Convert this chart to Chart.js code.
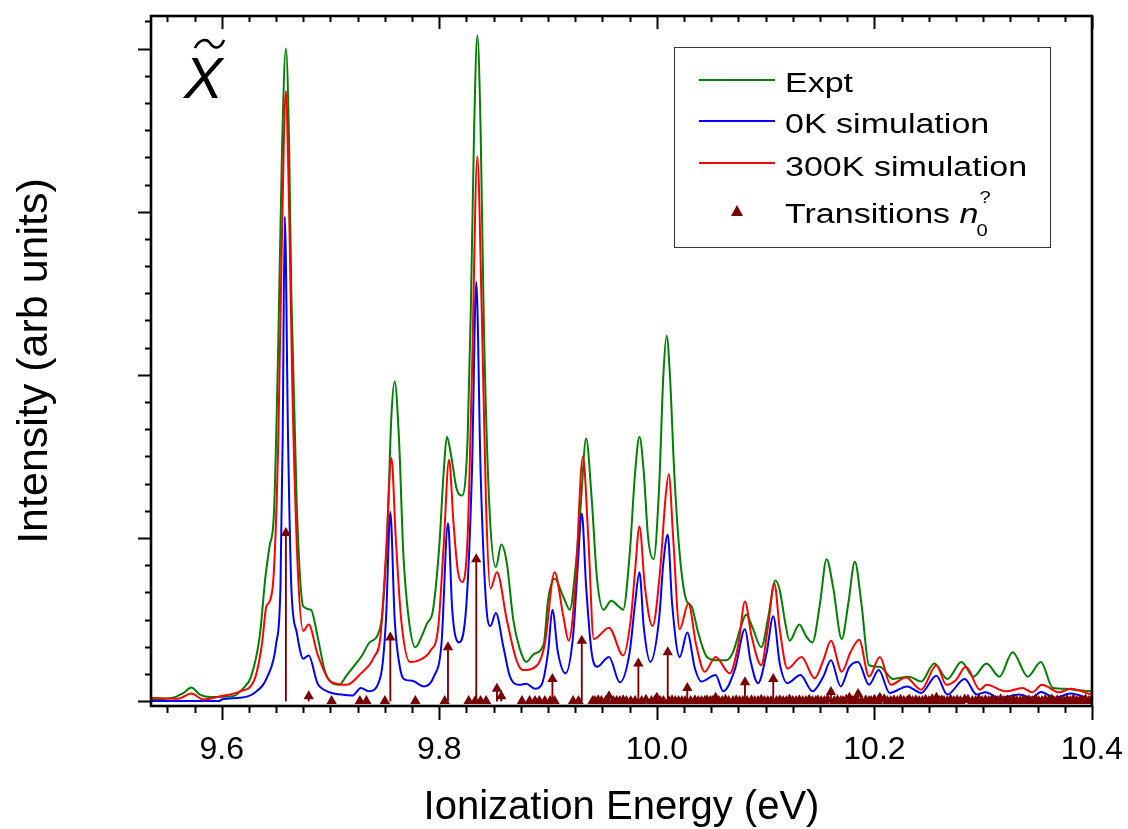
<!DOCTYPE html>
<html>
<head>
<meta charset="utf-8">
<script src="https://cdn.jsdelivr.net/npm/chart.js@4.4.1/dist/chart.umd.min.js"></script>
<style>
  html, body { margin: 0; padding: 0; background: #fff; }
  canvas { display: block; }
</style>
</head>
<body>
<canvas id="spectrum" width="1128" height="829"></canvas>
<script>
// ---- data ----
const exptE = [9.535, 9.555, 9.565, 9.572, 9.580, 9.590, 9.610, 9.620, 9.627, 9.635, 9.640, 9.644, 9.648, 9.652, 9.6555, 9.659, 9.662, 9.664, 9.669, 9.675, 9.682, 9.688, 9.695, 9.700, 9.708, 9.715, 9.721, 9.729, 9.736, 9.746, 9.752, 9.756, 9.759, 9.763, 9.767, 9.772, 9.778, 9.784, 9.789, 9.794, 9.800, 9.804, 9.807, 9.811, 9.816, 9.821, 9.826, 9.829, 9.832, 9.835, 9.838, 9.841, 9.846, 9.852, 9.857, 9.862, 9.868, 9.874, 9.880, 9.887, 9.896, 9.900, 9.906, 9.914, 9.920, 9.925, 9.930, 9.935, 9.940, 9.945, 9.951, 9.958, 9.965, 9.969, 9.975, 9.980, 9.984, 9.988, 9.992, 9.997, 10.002, 10.006, 10.009, 10.012, 10.016, 10.021, 10.027, 10.032, 10.038, 10.046, 10.055, 10.064, 10.070, 10.077, 10.082, 10.088, 10.096, 10.102, 10.109, 10.113, 10.118, 10.122, 10.131, 10.137, 10.143, 10.150, 10.156, 10.162, 10.170, 10.176, 10.182, 10.188, 10.195, 10.205, 10.217, 10.232, 10.243, 10.255, 10.267, 10.280, 10.291, 10.303, 10.315, 10.327, 10.341, 10.353, 10.364, 10.376, 10.388, 10.400];
const exptI = [0.01, 0.02, 0.05, 0.083, 0.04, 0.025, 0.03, 0.08, 0.15, 0.40, 0.75, 0.95, 1.15, 2.2, 3.4, 4.0, 3.4, 2.5, 1.2, 0.58, 0.56, 0.40, 0.18, 0.12, 0.10, 0.16, 0.21, 0.28, 0.36, 0.46, 1.0, 1.75, 1.96, 1.6, 0.9, 0.5, 0.33, 0.40, 0.48, 0.55, 0.95, 1.40, 1.62, 1.50, 1.30, 1.26, 1.6, 2.4, 3.5, 4.08, 3.5, 2.3, 1.2, 0.82, 0.96, 0.85, 0.50, 0.32, 0.24, 0.29, 0.35, 0.62, 0.75, 0.64, 0.56, 0.80, 1.2, 1.61, 1.25, 0.75, 0.56, 0.615, 0.58, 0.56, 0.9, 1.4, 1.62, 1.4, 1.0, 0.87, 1.3, 2.0, 2.24, 2.0, 1.4, 0.9, 0.62, 0.58, 0.42, 0.27, 0.25, 0.25, 0.30, 0.45, 0.53, 0.45, 0.33, 0.50, 0.74, 0.68, 0.48, 0.37, 0.47, 0.40, 0.36, 0.60, 0.87, 0.70, 0.38, 0.60, 0.855, 0.60, 0.22, 0.21, 0.136, 0.15, 0.12, 0.23, 0.136, 0.24, 0.15, 0.23, 0.15, 0.30, 0.15, 0.24, 0.08, 0.075, 0.066, 0.06];

const sim0E = [9.535, 9.598, 9.600, 9.617, 9.630, 9.642, 9.650, 9.654, 9.656, 9.658, 9.661, 9.664, 9.669, 9.675, 9.680, 9.688, 9.697, 9.710, 9.720, 9.728, 9.735, 9.746, 9.751, 9.755, 9.759, 9.764, 9.769, 9.775, 9.786, 9.795, 9.802, 9.808, 9.812, 9.818, 9.825, 9.830, 9.834, 9.838, 9.843, 9.847, 9.852, 9.859, 9.865, 9.874, 9.880, 9.888, 9.894, 9.900, 9.904, 9.909, 9.916, 9.923, 9.927, 9.931, 9.935, 9.940, 9.945, 9.956, 9.966, 9.975, 9.980, 9.984, 9.988, 9.994, 10.002, 10.006, 10.010, 10.014, 10.021, 10.028, 10.035, 10.041, 10.054, 10.061, 10.072, 10.081, 10.086, 10.093, 10.101, 10.107, 10.113, 10.120, 10.132, 10.143, 10.153, 10.160, 10.169, 10.177, 10.185, 10.195, 10.204, 10.214, 10.230, 10.243, 10.257, 10.267, 10.283, 10.294, 10.302, 10.315, 10.333, 10.345, 10.353, 10.366, 10.380, 10.400];
const sim0I = [0.0, 0.0, 0.01, 0.02, 0.05, 0.15, 0.35, 0.7, 1.6, 2.97, 1.6, 0.7, 0.42, 0.26, 0.28, 0.11, 0.06, 0.04, 0.034, 0.08, 0.06, 0.15, 0.5, 1.16, 0.5, 0.2, 0.13, 0.125, 0.09, 0.15, 0.35, 1.09, 0.55, 0.36, 0.6, 1.4, 2.57, 1.4, 0.6, 0.46, 0.54, 0.33, 0.15, 0.10, 0.107, 0.075, 0.10, 0.3, 0.56, 0.3, 0.17, 0.4, 0.8, 1.15, 0.7, 0.3, 0.21, 0.27, 0.115, 0.3, 0.6, 0.79, 0.45, 0.24, 0.5, 0.85, 1.02, 0.6, 0.27, 0.42, 0.2, 0.12, 0.16, 0.06, 0.2, 0.44, 0.25, 0.11, 0.3, 0.52, 0.23, 0.11, 0.16, 0.06, 0.15, 0.25, 0.09, 0.21, 0.24, 0.10, 0.19, 0.05, 0.09, 0.05, 0.156, 0.04, 0.136, 0.04, 0.054, 0.02, 0.04, 0.02, 0.056, 0.02, 0.046, 0.01];

const sim300E = [9.535, 9.560, 9.572, 9.583, 9.599, 9.617, 9.630, 9.637, 9.641, 9.644, 9.648, 9.652, 9.6555, 9.659, 9.662, 9.665, 9.670, 9.675, 9.680, 9.688, 9.700, 9.715, 9.728, 9.740, 9.746, 9.751, 9.756, 9.760, 9.765, 9.773, 9.781, 9.792, 9.799, 9.804, 9.809, 9.813, 9.817, 9.821, 9.826, 9.830, 9.835, 9.839, 9.843, 9.847, 9.853, 9.862, 9.871, 9.877, 9.890, 9.897, 9.906, 9.914, 9.919, 9.925, 9.932, 9.937, 9.942, 9.956, 9.969, 9.976, 9.980, 9.984, 9.989, 9.996, 10.003, 10.008, 10.011, 10.015, 10.021, 10.029, 10.036, 10.044, 10.054, 10.067, 10.075, 10.081, 10.087, 10.096, 10.102, 10.108, 10.113, 10.120, 10.133, 10.145, 10.153, 10.160, 10.170, 10.178, 10.186, 10.195, 10.205, 10.215, 10.229, 10.243, 10.257, 10.266, 10.275, 10.284, 10.297, 10.303, 10.321, 10.336, 10.345, 10.354, 10.370, 10.380, 10.400];
const sim300I = [0.02, 0.015, 0.046, 0.01, 0.03, 0.06, 0.13, 0.35, 0.58, 0.61, 0.80, 1.6, 2.9, 3.74, 3.0, 1.9, 0.8, 0.43, 0.47, 0.29, 0.12, 0.10, 0.17, 0.27, 0.40, 0.9, 1.49, 1.0, 0.5, 0.24, 0.25, 0.31, 0.45, 0.95, 1.48, 1.1, 0.8, 0.73, 1.0, 2.0, 3.34, 2.4, 1.2, 0.69, 0.79, 0.50, 0.25, 0.19, 0.22, 0.35, 0.79, 0.52, 0.37, 0.7, 1.50, 1.0, 0.38, 0.45, 0.28, 0.5, 0.8, 1.07, 0.7, 0.46, 0.8, 1.25, 1.39, 1.0, 0.44, 0.60, 0.35, 0.18, 0.27, 0.17, 0.35, 0.61, 0.40, 0.22, 0.45, 0.72, 0.44, 0.20, 0.27, 0.14, 0.25, 0.37, 0.18, 0.30, 0.376, 0.15, 0.27, 0.10, 0.145, 0.07, 0.22, 0.10, 0.13, 0.21, 0.07, 0.10, 0.06, 0.08, 0.054, 0.10, 0.054, 0.076, 0.04];

// transitions with a visible stick
const transE = [9.659, 9.680, 9.755, 9.808, 9.834, 9.853, 9.857, 9.904, 9.931, 9.956, 9.983, 10.000, 10.010, 10.028, 10.054, 10.081, 10.107, 10.160, 10.177, 10.185, 10.205, 10.257, 10.283];
const transI = [1.03, 0.03, 0.39, 0.33, 0.87, 0.075, 0.03, 0.136, 0.37, 0.03, 0.23, 0.02, 0.30, 0.08, 0.02, 0.115, 0.136, 0.056, 0.02, 0.044, 0.02, 0.02, 0.01];
// weak transitions sitting on the baseline
const weakE = [9.701, 9.727, 9.733, 9.750, 9.778, 9.805, 9.827, 9.833, 9.838, 9.843, 9.876, 9.883, 9.888, 9.892, 9.897, 9.902, 9.906, 9.923, 9.928, 9.941, 9.943, 9.946, 9.949, 9.953, 9.960, 9.963, 9.966, 9.969, 9.972, 9.976, 9.980, 9.986, 9.990, 9.995, 9.998, 10.003, 10.006, 10.011, 10.014, 10.017, 10.020, 10.023, 10.026, 10.031, 10.035, 10.038, 10.041, 10.044, 10.046, 10.049, 10.051, 10.057, 10.060, 10.063, 10.066, 10.070, 10.073, 10.076, 10.079, 10.083, 10.087, 10.090, 10.093, 10.096, 10.099, 10.102, 10.105, 10.110, 10.113, 10.116, 10.119, 10.122, 10.125, 10.128, 10.131, 10.134, 10.137, 10.140, 10.143, 10.146, 10.148, 10.151, 10.154, 10.157, 10.163, 10.166, 10.169, 10.171, 10.174, 10.180, 10.183, 10.188, 10.192, 10.195, 10.197, 10.200, 10.203, 10.209, 10.212, 10.215, 10.218, 10.221, 10.224, 10.227, 10.230, 10.232, 10.235, 10.238, 10.241, 10.244, 10.247, 10.250, 10.253, 10.255, 10.260, 10.262, 10.264, 10.267, 10.270, 10.273, 10.276, 10.279, 10.286, 10.290, 10.293, 10.296, 10.299, 10.302, 10.305, 10.308, 10.311, 10.313, 10.316, 10.319, 10.322, 10.325, 10.328, 10.331, 10.334, 10.337, 10.339, 10.342, 10.345, 10.348, 10.351, 10.354, 10.357, 10.360, 10.363, 10.365, 10.368, 10.371, 10.374, 10.377, 10.380, 10.383, 10.386, 10.389, 10.391, 10.394, 10.397, 10.399];
const weakI = [0, 0, 0, 0, 0, 0, 0, 0, 0, 0, 0, 0, 0, 0, 0, 0, 0, 0, 0, 0, 0, 0.005, 0, 0, 0, 0, 0, 0.005, 0, 0, 0, 0, 0.008, 0, 0, 0, 0, 0, 0.006, 0, 0, 0, 0, 0, 0.005, 0, 0, 0, 0.006, 0, 0, 0, 0, 0.008, 0, 0, 0.006, 0, 0, 0, 0.005, 0, 0, 0.008, 0, 0, 0, 0, 0.006, 0, 0, 0.01, 0, 0, 0.006, 0, 0, 0.008, 0, 0, 0.005, 0, 0, 0.01, 0, 0.006, 0, 0, 0.008, 0, 0.01, 0, 0.006, 0, 0, 0.008, 0, 0.012, 0, 0, 0.006, 0, 0.008, 0, 0, 0.01, 0, 0.006, 0, 0, 0.008, 0, 0.012, 0, 0, 0.006, 0, 0, 0.01, 0, 0.006, 0, 0.008, 0, 0, 0.01, 0, 0.006, 0, 0.008, 0, 0, 0.012, 0, 0.006, 0, 0.01, 0, 0, 0.008, 0, 0.006, 0, 0.012, 0, 0, 0.008, 0, 0.01, 0, 0.006, 0, 0, 0.008, 0, 0.012, 0, 0.006, 0, 0.01, 0, 0];

const xTickValues = [9.6, 9.8, 10.0, 10.2, 10.4];
const seriesLabels = ['Expt', '0K simulation', '300K simulation', 'Transitions'];

const FONT = "'Liberation Sans', Arial, sans-serif";
const GREEN = '#008000', BLUE = '#0000ff', RED = '#ff0000', MAROON = '#7a0000';
const LEGEND_STRETCH = 1.26;   // legend text in the figure is wider than normal

const toPoints = (xs, ys) => xs.map((x, i) => ({ x, y: ys[i] }));

const lineStyle = (color) => ({
    type: 'line',
    borderColor: color,
    backgroundColor: color,
    borderWidth: 2,
    pointRadius: 0,
    fill: false,
    cubicInterpolationMode: 'monotone'
});

// draw text with a horizontal stretch, anchored at (x, y); returns drawn width
function wideText(ctx, text, x, y, stretch) {
    ctx.save();
    ctx.translate(x, y);
    ctx.scale(stretch, 1);
    ctx.textAlign = 'left';
    ctx.fillText(text, 0, 0);
    const w = ctx.measureText(text).width * stretch;
    ctx.restore();
    return w;
}

// Minor/major tick marks, frame box, legend, titles and the X-tilde label
const decorations = {
    id: 'decorations',
    afterDraw(chart) {
        const { ctx, chartArea: a, scales: { x, y } } = chart;
        ctx.save();
        ctx.strokeStyle = '#000';
        ctx.lineCap = 'butt';

        // x ticks: bottom outward, top inward, every 0.025 eV
        ctx.lineWidth = 2;
        const k0 = Math.ceil(x.min / 0.025 - 1e-6), k1 = Math.floor(x.max / 0.025 + 1e-6);
        for (let k = k0; k <= k1; k++) {
            const px = Math.round(x.getPixelForValue(k * 0.025)) + 0.5;
            const major = k % 8 === 0;
            ctx.beginPath();
            ctx.moveTo(px, a.bottom);
            ctx.lineTo(px, a.bottom + (major ? 14 : 7));
            ctx.moveTo(px, a.top);
            ctx.lineTo(px, a.top + (major ? 13 : 6));
            ctx.stroke();
        }
        // y ticks: left outward, six minor steps per major
        for (let k = 0; k / 6 <= y.max; k++) {
            const py = Math.round(y.getPixelForValue(k / 6)) + 0.5;
            const major = k % 6 === 0;
            ctx.beginPath();
            ctx.moveTo(a.left, py);
            ctx.lineTo(a.left - (major ? 13 : 6), py);
            ctx.stroke();
        }

        // frame
        ctx.lineWidth = 2.6;
        ctx.strokeRect(a.left, a.top, a.right - a.left, a.bottom - a.top);

        ctx.fillStyle = '#000';
        ctx.textBaseline = 'alphabetic';

        // tick labels
        ctx.font = '32px ' + FONT;
        ctx.textAlign = 'center';
        xTickValues.forEach(v => ctx.fillText(v.toFixed(1), x.getPixelForValue(v), 759));

        // axis titles
        ctx.font = '40px ' + FONT;
        ctx.fillText('Ionization Energy (eV)', (a.left + a.right) / 2, 819);
        ctx.save();
        ctx.translate(47, 361);
        ctx.rotate(-Math.PI / 2);
        ctx.font = '43px ' + FONT;
        ctx.fillText('Intensity (arb units)', 0, 0);
        ctx.restore();

        // X tilde label
        ctx.font = 'italic 58px ' + FONT;
        ctx.textAlign = 'left';
        ctx.fillText('X', 184, 98);
        ctx.lineWidth = 2.6;
        ctx.beginPath();
        ctx.moveTo(195, 48);
        ctx.bezierCurveTo(200, 38, 207, 39, 210, 43);
        ctx.bezierCurveTo(214, 49, 220, 50, 224, 40);
        ctx.stroke();

        // legend box
        ctx.lineWidth = 1;
        ctx.strokeStyle = '#333';
        ctx.strokeRect(674.5, 47.5, 376, 200);
        const rows = [
            { color: GREEN, y: 80, base: 92 },
            { color: BLUE, y: 121, base: 133 },
            { color: RED, y: 163, base: 176 }
        ];
        ctx.font = '27px ' + FONT;
        rows.forEach((r, i) => {
            ctx.strokeStyle = r.color;
            ctx.lineWidth = 2;
            ctx.beginPath();
            ctx.moveTo(699, r.y);
            ctx.lineTo(775, r.y);
            ctx.stroke();
            ctx.fillStyle = '#000';
            wideText(ctx, seriesLabels[i], 785, r.base, LEGEND_STRETCH);
        });
        // transitions entry
        ctx.fillStyle = MAROON;
        ctx.beginPath();
        ctx.moveTo(737, 205);
        ctx.lineTo(743, 216);
        ctx.lineTo(731, 216);
        ctx.closePath();
        ctx.fill();
        ctx.fillStyle = '#000';
        const w = wideText(ctx, seriesLabels[3] + ' ', 785, 223, LEGEND_STRETCH);
        ctx.font = 'italic 27px ' + FONT;
        const wn = wideText(ctx, 'n', 785 + w, 223, LEGEND_STRETCH);
        ctx.font = '16px ' + FONT;
        wideText(ctx, '?', 785 + w + wn + 1, 203, LEGEND_STRETCH);
        wideText(ctx, '0', 785 + w + wn - 2, 236, LEGEND_STRETCH);
        ctx.restore();
    }
};

const triangleStyle = {
    type: 'scatter',
    pointStyle: 'triangle',
    pointRadius: 6,
    backgroundColor: MAROON,
    borderColor: MAROON,
    borderWidth: 0,
    showLine: false
};

new Chart(document.getElementById('spectrum'), {
    type: 'line',
    data: {
        datasets: [
            { ...triangleStyle, data: toPoints(transE, transI), order: 0 },
            { ...triangleStyle, data: toPoints(weakE, weakI), order: 0 },
            {
                type: 'bar',
                data: toPoints(transE, transI),
                backgroundColor: MAROON,
                barThickness: 1.2,
                grouped: false,
                order: 1
            },
            { ...lineStyle(RED), data: toPoints(sim300E, sim300I), order: 2 },
            { ...lineStyle(BLUE), data: toPoints(sim0E, sim0I), order: 3 },
            { ...lineStyle(GREEN), data: toPoints(exptE, exptI), order: 4 }
        ]
    },
    options: {
        responsive: false,
        animation: false,
        layout: { padding: { top: 16, right: 36, left: 0, bottom: 0 } },
        plugins: {
            legend: { display: false },
            tooltip: { enabled: false }
        },
        scales: {
            x: {
                type: 'linear',
                min: 9.535,
                max: 10.4,
                offset: false,
                grid: { display: false, drawTicks: false },
                border: { display: false },
                ticks: { display: false },
                afterFit: (s) => { s.height = 123; s.paddingLeft = 0; s.paddingRight = 0; }
            },
            y: {
                type: 'linear',
                min: -0.03,
                max: 4.2,
                grid: { display: false, drawTicks: false },
                border: { display: false },
                ticks: { display: false },
                afterFit: (s) => { s.width = 151; s.paddingTop = 0; s.paddingBottom = 0; }
            }
        }
    },
    plugins: [decorations]
});
</script>
</body>
</html>
